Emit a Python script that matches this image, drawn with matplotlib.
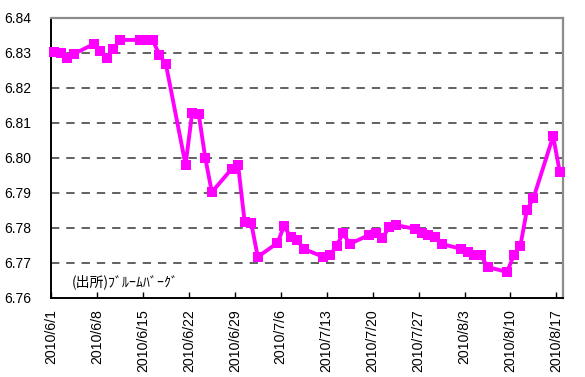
import matplotlib
matplotlib.use("Agg")
import matplotlib.pyplot as plt
import matplotlib.dates as mdates
import pandas as pd
import numpy as np

plt.rcParams["font.family"] = ["Liberation Sans", "DejaVu Sans"]
plt.rcParams["lines.scale_dashes"] = False

# USD/CNY daily rate, business days
dates = pd.bdate_range("2010-06-01", "2010-08-17")
rates = [
    # June
    6.8301, 6.8299, 6.8284, 6.8296, 6.8324, 6.8304, 6.8284, 6.8310, 6.8336,
    6.8336, 6.8336, 6.8336, 6.8293, 6.8267, 6.7979, 6.8127, 6.8124, 6.7999,
    6.7901, 6.7967, 6.7979, 6.7816,
    # July
    6.7813, 6.7716, 6.7756, 6.7804, 6.7773, 6.7764, 6.7739, 6.7716, 6.7721,
    6.7747, 6.7784, 6.7753, 6.7779, 6.7784, 6.7770, 6.7801, 6.7807, 6.7796,
    6.7784, 6.7779, 6.7773, 6.7753,
    # August
    6.7739, 6.7730, 6.7721, 6.7721, 6.7687, 6.7673, 6.7721, 6.7747, 6.7850,
    6.7884, 6.8061, 6.7959,
]
tick_dates = pd.date_range("2010-06-01", "2010-08-17", freq="7D")
y_ticks = [6.76, 6.77, 6.78, 6.79, 6.80, 6.81, 6.82, 6.83, 6.84]
source_note = "(出所)ﾌﾞﾙｰﾑﾊﾞｰｸﾞ"

fig = plt.figure(figsize=(5.85, 3.77), dpi=100)
ax = fig.add_axes([51 / 585, 1 - 297.5 / 377, 512 / 585, 280 / 377])

# each day occupies one slot; points sit in the middle of their slot
x = mdates.date2num(dates) + 0.5
ax.plot(x, rates, color="#FF00FF", lw=2.8, marker="s", ms=7,
        markeredgewidth=0, zorder=3, clip_on=False)

x0 = mdates.date2num(pd.Timestamp("2010-06-01"))
ax.set_xlim(x0, x0 + 78)
ax.set_ylim(6.76, 6.84)
ax.set_yticks(y_ticks)
ax.set_yticklabels([f"{v:.2f}" for v in y_ticks], fontsize=10)
ax.set_xticks(mdates.date2num(tick_dates))
ax.set_xticklabels([f"{d.year}/{d.month}/{d.day}" for d in tick_dates],
                   rotation=90, fontsize=10.2)

ax.tick_params(axis="x", direction="in", length=4, width=1, color="black", pad=8.5)
ax.tick_params(axis="y", direction="in", length=0, pad=14)

for v in y_ticks[1:-1]:
    ax.axhline(v, color="#555555", lw=1.3, dashes=(6, 5), zorder=1)

for side in ("left", "bottom"):
    ax.spines[side].set_color("black")
    ax.spines[side].set_linewidth(1.4)
for side in ("top", "right"):
    ax.spines[side].set_color("#8c8c8c")
    ax.spines[side].set_linewidth(1.6)

ax.text(0.04, 0.055, source_note, transform=ax.transAxes, fontsize=10,
        family=["Noto Sans CJK JP", "DejaVu Sans"], va="center", ha="left")

fig.savefig("out.png", dpi=100)
